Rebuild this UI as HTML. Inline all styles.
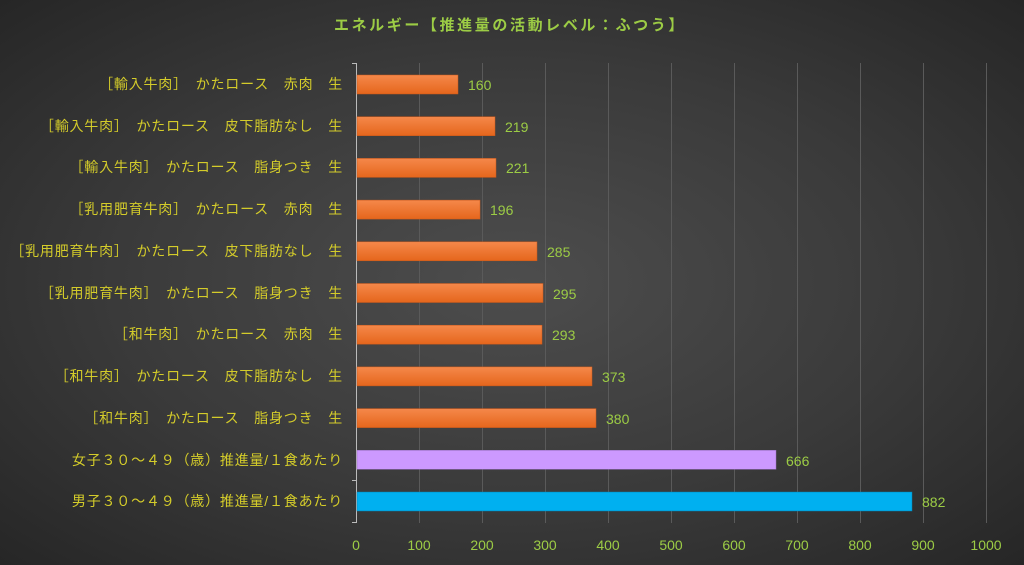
<!DOCTYPE html>
<html><head><meta charset="utf-8"><style>
html,body{margin:0;padding:0;}
body{width:1024px;height:565px;overflow:hidden;background:radial-gradient(ellipse at 50% 50%,#4d4d4d 0%,#3a3a3a 55%,#262626 100%);}
svg{display:block;font-family:"Liberation Sans","Noto Sans CJK JP",sans-serif;}
</style></head><body>
<svg width="1024" height="565" viewBox="0 0 1024 565">
<defs>
<linearGradient id="og" x1="0" y1="0" x2="0" y2="1"><stop offset="0" stop-color="#f5884a"/><stop offset="1" stop-color="#e5661c"/></linearGradient>
</defs>
<text x="510" y="30" text-anchor="middle" fill="#9ccc45" font-size="15" font-weight="bold" letter-spacing="2.6">エネルギー【推進量の活動レベル：ふつう】</text>
<g stroke="#5a5a5a" stroke-width="1">
<line x1="419.5" y1="63" x2="419.5" y2="523"/><line x1="482.5" y1="63" x2="482.5" y2="523"/><line x1="545.5" y1="63" x2="545.5" y2="523"/><line x1="608.5" y1="63" x2="608.5" y2="523"/><line x1="671.5" y1="63" x2="671.5" y2="523"/><line x1="734.5" y1="63" x2="734.5" y2="523"/><line x1="797.5" y1="63" x2="797.5" y2="523"/><line x1="860.5" y1="63" x2="860.5" y2="523"/><line x1="923.5" y1="63" x2="923.5" y2="523"/><line x1="986.5" y1="63" x2="986.5" y2="523"/>
</g>
<g stroke="#bbb" stroke-width="1"><line x1="356.5" y1="63" x2="356.5" y2="523"/>
<line x1="352" y1="63.5" x2="356" y2="63.5"/><line x1="352" y1="522.5" x2="356" y2="522.5"/>
<line x1="352" y1="480.5" x2="356" y2="480.5"/></g>
<g fill="url(#og)" stroke="#c9581a" stroke-width="0.5">
<rect x="357" y="75" width="101" height="19"/>
<rect x="357" y="116.7" width="138" height="19"/>
<rect x="357" y="158.4" width="139" height="19"/>
<rect x="357" y="200.1" width="123" height="19"/>
<rect x="357" y="241.8" width="180" height="19"/>
<rect x="357" y="283.5" width="186" height="19"/>
<rect x="357" y="325.2" width="185" height="19"/>
<rect x="357" y="366.9" width="235" height="19"/>
<rect x="357" y="408.6" width="239" height="19"/>
</g>
<rect x="357" y="450.3" width="419" height="19" fill="#cc99ff" stroke="#9a70c0" stroke-width="0.5"/>
<rect x="357" y="492" width="555" height="19" fill="#00b0f0" stroke="#0080b0" stroke-width="0.5"/>
<g fill="#9ccc45" font-size="14">
<text x="468" y="90">160</text><text x="505" y="132">219</text><text x="506" y="173">221</text><text x="490" y="215">196</text><text x="547" y="257">285</text><text x="553" y="299">295</text><text x="552" y="340">293</text><text x="602" y="382">373</text><text x="606" y="424">380</text><text x="786" y="466">666</text><text x="922" y="507">882</text>
</g>
<g fill="#d4cc2a" font-size="14" text-anchor="end" letter-spacing="0.8">
<text x="343" y="89">［輸入牛肉］　かたロース　赤肉　生</text>
<text x="343" y="131">［輸入牛肉］　かたロース　皮下脂肪なし　生</text>
<text x="343" y="172">［輸入牛肉］　かたロース　脂身つき　生</text>
<text x="343" y="214">［乳用肥育牛肉］　かたロース　赤肉　生</text>
<text x="343" y="256">［乳用肥育牛肉］　かたロース　皮下脂肪なし　生</text>
<text x="343" y="298">［乳用肥育牛肉］　かたロース　脂身つき　生</text>
<text x="343" y="339">［和牛肉］　かたロース　赤肉　生</text>
<text x="343" y="381">［和牛肉］　かたロース　皮下脂肪なし　生</text>
<text x="343" y="423">［和牛肉］　かたロース　脂身つき　生</text>
<text x="343" y="465">女子３０～４９（歳）推進量/１食あたり</text>
<text x="343" y="506">男子３０～４９（歳）推進量/１食あたり</text>
</g>
<g fill="#9ccc45" font-size="14" text-anchor="middle">
<text x="356" y="550">0</text><text x="419" y="550">100</text><text x="482" y="550">200</text><text x="545" y="550">300</text><text x="608" y="550">400</text><text x="671" y="550">500</text><text x="734" y="550">600</text><text x="797" y="550">700</text><text x="860" y="550">800</text><text x="923" y="550">900</text><text x="986" y="550">1000</text>
</g>
</svg>
</body></html>
